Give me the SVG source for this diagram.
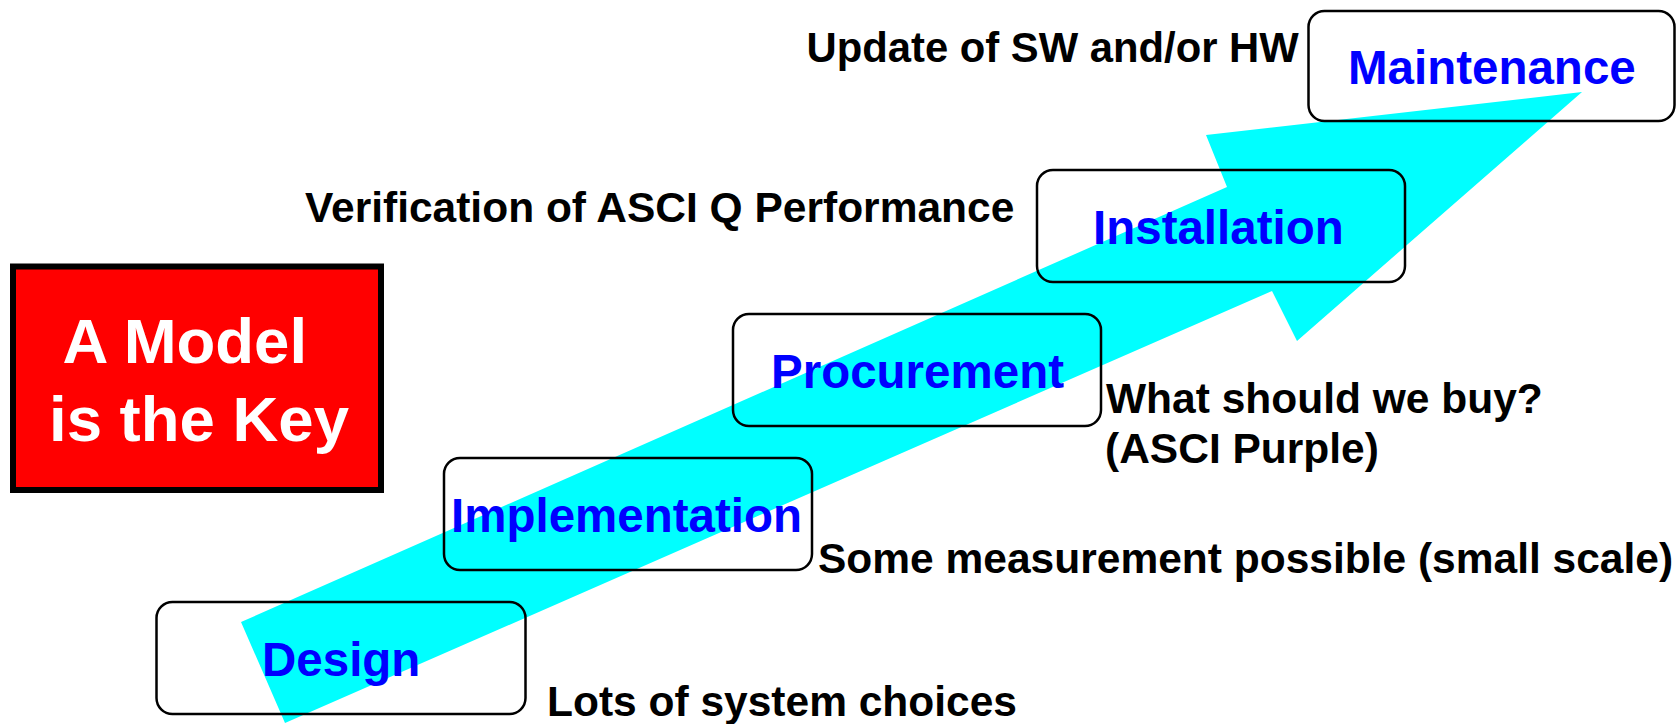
<svg xmlns="http://www.w3.org/2000/svg" width="1678" height="724" viewBox="0 0 1678 724">
<style>
  .box { fill: none; stroke: #000; stroke-width: 2.5; }
  .stage { font-family: "Liberation Sans", Arial, sans-serif; font-weight: bold; font-size: 47.5px; fill: #0000FF; }
  .note { font-family: "Liberation Sans", Arial, sans-serif; font-weight: bold; font-size: 42.5px; fill: #000; }
  .key { font-family: "Liberation Sans", Arial, sans-serif; font-weight: bold; font-size: 63.5px; fill: #fff; }
</style>
<rect width="1678" height="724" fill="#fff"/>
<g id="connectors">
  <polygon points="241,622 1227,187 1206,135 1582,92 1297,341 1272,291 285,723" fill="#00FFFF"/>
</g>
<g id="key">
  <rect x="13" y="266.5" width="368" height="223.5" fill="#FF0000" stroke="#000" stroke-width="6"/>
  <text class="key" x="62.5" y="363">A Model</text>
  <text class="key" x="49" y="441">is the Key</text>
</g>
<g id="design">
  <rect class="box" x="156.5" y="602" width="369" height="112" rx="16"/>
  <text class="stage" x="262" y="676">Design</text>
  <text class="note" x="547" y="716">Lots of system choices</text>
</g>
<g id="implementation">
  <rect class="box" x="444" y="458" width="368" height="112" rx="16"/>
  <text class="stage" x="451" y="532">Implementation</text>
  <text class="note" x="818" y="573">Some measurement possible (small scale)</text>
</g>
<g id="procurement">
  <rect class="box" x="733" y="314" width="368" height="112" rx="16"/>
  <text class="stage" x="771" y="388">Procurement</text>
  <text class="note" x="1106" y="412.5">What should we buy?</text>
  <text class="note" x="1105" y="462.5">(ASCI Purple)</text>
</g>
<g id="installation">
  <rect class="box" x="1037" y="170" width="368" height="112" rx="16"/>
  <text class="stage" x="1093" y="244">Installation</text>
  <text class="note" x="305" y="221.5">Verification of ASCI Q Performance</text>
</g>
<g id="maintenance">
  <rect class="box" x="1308.5" y="11" width="366" height="110" rx="16"/>
  <text class="stage" x="1348" y="84">Maintenance</text>
  <text class="note" x="806.5" y="61.5" style="font-size:41.8px">Update of SW and/or HW</text>
</g>
</svg>
